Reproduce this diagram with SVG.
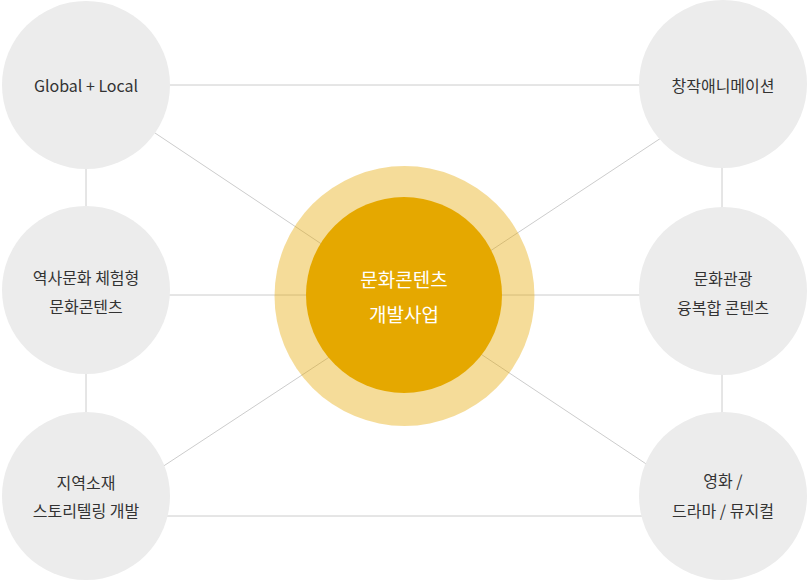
<svg xmlns="http://www.w3.org/2000/svg" width="807" height="580" viewBox="0 0 807 580">
<style>
.bg{fill:#ffffff}
.conn line{stroke:#cccccc;stroke-width:1;fill:none}
.node circle{fill:#ececec}
.lbl{font-family:"Noto Sans CJK KR","Noto Sans",sans-serif;font-size:16px;fill:#333333;text-anchor:middle;dominant-baseline:central}
.clbl{font-family:"Noto Sans CJK KR","Noto Sans",sans-serif;font-size:19px;fill:#ffffff;text-anchor:middle;dominant-baseline:central}
</style>
<rect class="bg" x="0" y="0" width="807" height="580"/>
<g id="connectors" class="conn">
<line x1="86" y1="85" x2="723" y2="85"/>
<line x1="86" y1="295" x2="723" y2="295"/>
<line x1="86" y1="516" x2="723" y2="516"/>
<line x1="86" y1="85" x2="86" y2="516"/>
<line x1="722" y1="85" x2="722" y2="516"/>
<line x1="86" y1="87" x2="404" y2="299"/>
<line x1="723" y1="97" x2="404" y2="308"/>
<line x1="86" y1="517" x2="404" y2="308"/>
<line x1="404" y1="303" x2="723" y2="515"/>
</g>
<g id="center">
<circle cx="404.5" cy="296" r="130" fill="#e5a800" fill-opacity="0.4"/>
<circle cx="404" cy="295" r="98" fill="#e5a800"/>
<text class="clbl" x="404" y="278">문화콘텐츠</text>
<text class="clbl" x="404" y="313">개발사업</text>
</g>
<g id="n-global" class="node">
<circle cx="86" cy="85" r="84"/>
<text class="lbl" x="86" y="85">Global + Local</text>
</g>
<g id="n-history" class="node">
<circle cx="86" cy="290" r="84"/>
<text class="lbl" x="86" y="277">역사문화 체험형</text>
<text class="lbl" x="86" y="306">문화콘텐츠</text>
</g>
<g id="n-story" class="node">
<circle cx="86" cy="496" r="84"/>
<text class="lbl" x="86" y="482">지역소재</text>
<text class="lbl" x="86" y="510">스토리텔링 개발</text>
</g>
<g id="n-anim" class="node">
<circle cx="723" cy="84" r="84"/>
<text class="lbl" x="723" y="85">창작애니메이션</text>
</g>
<g id="n-tour" class="node">
<circle cx="723" cy="291" r="84"/>
<text class="lbl" x="723" y="278">문화관광</text>
<text class="lbl" x="723" y="307">융복합 콘텐츠</text>
</g>
<g id="n-film" class="node">
<circle cx="723" cy="496" r="84"/>
<text class="lbl" x="723" y="480">영화 /</text>
<text class="lbl" x="723" y="510">드라마 / 뮤지컬</text>
</g>
</svg>
